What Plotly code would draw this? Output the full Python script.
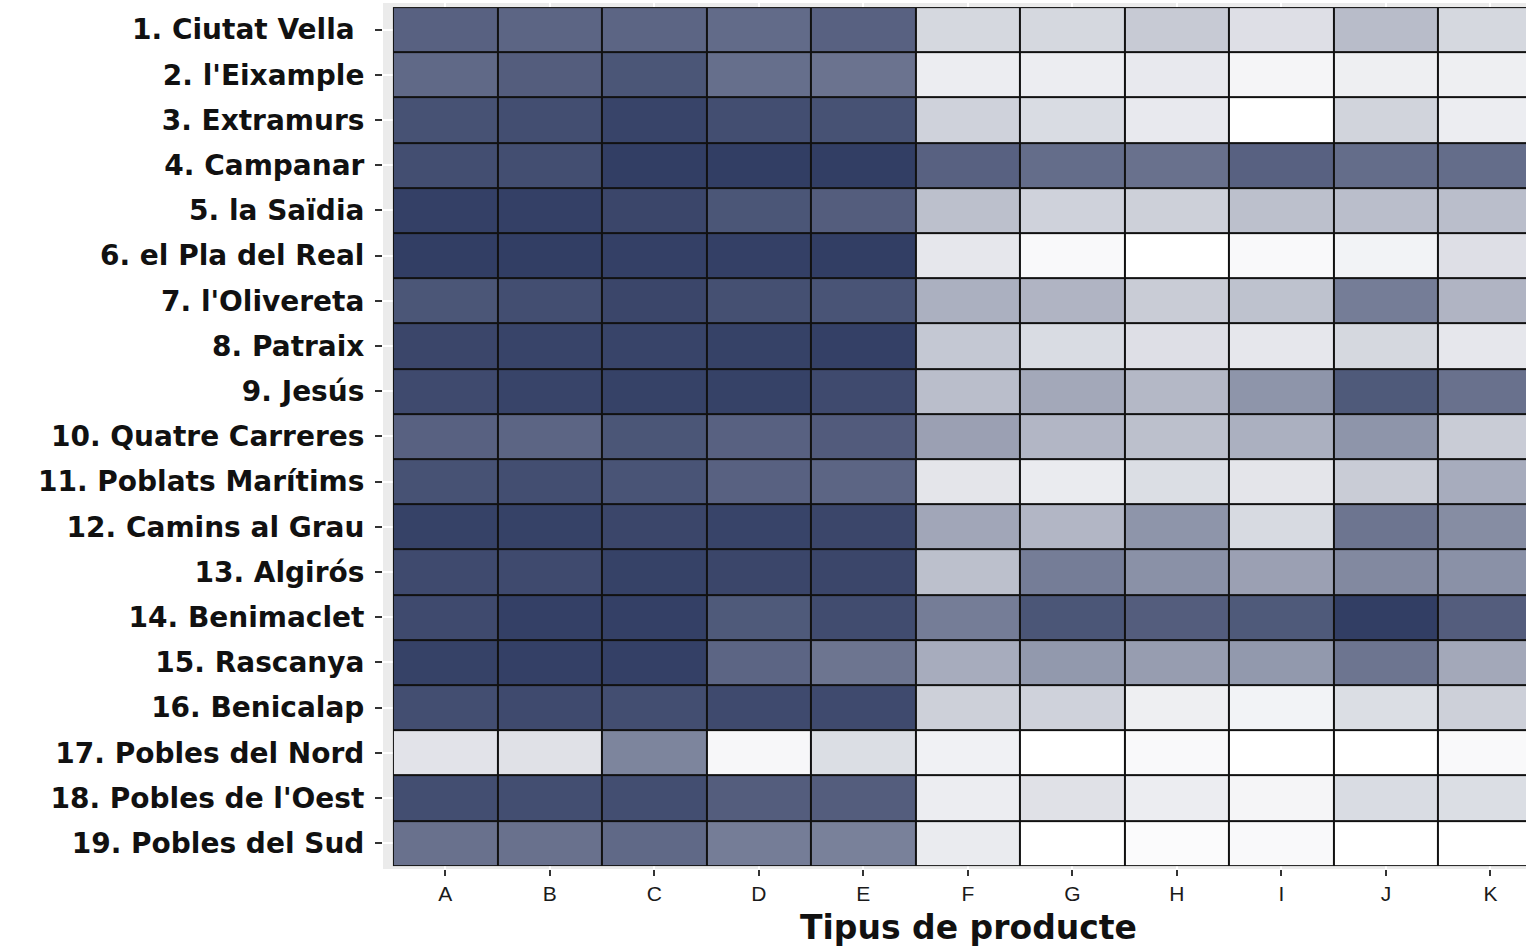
import numpy as np
import plotly.graph_objects as go

PRODUCTES = ["A", "B", "C", "D", "E", "F", "G", "H", "I", "J", "K"]

DISTRICTES = [
    "1. Ciutat Vella ", "2. l'Eixample", "3. Extramurs", "4. Campanar",
    "5. la Saïdia", "6. el Pla del Real", "7. l'Olivereta", "8. Patraix",
    "9. Jesús", "10. Quatre Carreres", "11. Poblats Marítims",
    "12. Camins al Grau", "13. Algirós", "14. Benimaclet", "15. Rascanya",
    "16. Benicalap", "17. Pobles del Nord", "18. Pobles de l'Oest",
    "19. Pobles del Sud",
]

# intensitat relativa (0 = blanc, 1 = blau fosc), una fila per districte
ciutat_vella = [0.80, 0.78, 0.78, 0.75, 0.80, 0.20, 0.20, 0.27, 0.16, 0.34, 0.20]
eixample = [0.76, 0.82, 0.86, 0.73, 0.71, 0.09, 0.09, 0.11, 0.05, 0.08, 0.08]
extramurs = [0.88, 0.90, 0.95, 0.90, 0.88, 0.23, 0.18, 0.11, 0.00, 0.22, 0.09]
campanar = [0.90, 0.90, 0.98, 0.98, 0.98, 0.80, 0.74, 0.72, 0.80, 0.74, 0.74]
saidia = [0.97, 0.97, 0.94, 0.86, 0.82, 0.32, 0.23, 0.24, 0.32, 0.33, 0.33]
pla_real = [0.98, 0.98, 0.97, 0.97, 0.98, 0.12, 0.03, 0.00, 0.03, 0.06, 0.16]
olivereta = [0.86, 0.90, 0.94, 0.89, 0.87, 0.40, 0.38, 0.26, 0.31, 0.66, 0.38]
patraix = [0.94, 0.95, 0.95, 0.96, 0.97, 0.28, 0.18, 0.16, 0.12, 0.20, 0.12]
jesus = [0.92, 0.95, 0.96, 0.96, 0.92, 0.33, 0.44, 0.36, 0.54, 0.84, 0.72]
quatre_carreres = [0.80, 0.78, 0.86, 0.80, 0.83, 0.48, 0.37, 0.32, 0.40, 0.54, 0.26]
poblats_maritims = [0.88, 0.90, 0.87, 0.80, 0.78, 0.13, 0.10, 0.17, 0.13, 0.26, 0.42]
camins_grau = [0.96, 0.96, 0.94, 0.95, 0.94, 0.45, 0.37, 0.54, 0.19, 0.70, 0.58]
algiros = [0.92, 0.92, 0.96, 0.94, 0.94, 0.32, 0.66, 0.56, 0.48, 0.60, 0.56]
benimaclet = [0.92, 0.97, 0.97, 0.84, 0.91, 0.66, 0.86, 0.82, 0.84, 0.98, 0.82]
rascanya = [0.96, 0.97, 0.97, 0.78, 0.70, 0.42, 0.52, 0.50, 0.52, 0.70, 0.44]
benicalap = [0.90, 0.92, 0.90, 0.92, 0.92, 0.24, 0.23, 0.08, 0.06, 0.17, 0.24]
pobles_nord = [0.14, 0.15, 0.62, 0.04, 0.17, 0.07, 0.00, 0.03, 0.00, 0.00, 0.03]
pobles_oest = [0.90, 0.90, 0.90, 0.82, 0.82, 0.09, 0.15, 0.09, 0.05, 0.18, 0.17]
pobles_sud = [0.72, 0.72, 0.76, 0.66, 0.64, 0.10, 0.00, 0.02, 0.03, 0.00, 0.00]

valors = np.array([
    ciutat_vella, eixample, extramurs, campanar, saidia, pla_real, olivereta,
    patraix, jesus, quatre_carreres, poblats_maritims, camins_grau, algiros,
    benimaclet, rascanya, benicalap, pobles_nord, pobles_oest, pobles_sud,
])

fig = go.Figure()

# capa negra de fons: fa de vora de les caselles
fig.add_trace(go.Heatmap(
    z=np.ones_like(valors), x=PRODUCTES, y=DISTRICTES,
    colorscale=[[0, "#111111"], [1, "#111111"]],
    showscale=False, hoverinfo="skip",
))
fig.add_trace(go.Heatmap(
    z=valors, x=PRODUCTES, y=DISTRICTES,
    zmin=0, zmax=1,
    colorscale=[[0, "#FFFFFF"], [1, "#2E3A61"]],
    xgap=2, ygap=2,
    showscale=False,
))

fig.update_layout(
    width=1526, height=946,
    margin=dict(l=383, r=0, t=3, b=77, autoexpand=False),
    paper_bgcolor="white",
    plot_bgcolor="#EBEBEB",
    showlegend=False,
)
fig.update_xaxes(
    type="category", range=[-0.595, 10.34], automargin=False,
    showgrid=True, gridcolor="white", gridwidth=1.5, zeroline=False,
    ticks="outside", ticklen=6, tickwidth=1.5, tickcolor="#333333",
    ticklabelstandoff=0,
    tickfont=dict(family="Liberation Sans, Arial", size=21, color="#1a1a1a"),
)
fig.update_yaxes(
    type="category", range=[18.57, -0.59], automargin=False,
    showgrid=True, gridcolor="white", gridwidth=1.5, zeroline=False,
    ticks="outside", ticklen=7, tickwidth=1.5, tickcolor="#333333",
    ticklabelstandoff=5,
    tickfont=dict(family="DejaVu Sans", size=28, color="#111111", weight="bold"),
)
fig.add_annotation(
    text="Tipus de producte", xref="paper", yref="paper",
    x=0.512, y=-0.068, xanchor="center", yanchor="middle", showarrow=False,
    font=dict(family="DejaVu Sans", size=33, color="#111111", weight="bold"),
)

fig.write_html("out.html", config={"displayModeBar": False},
               post_script="document.body.style.margin='0';")
